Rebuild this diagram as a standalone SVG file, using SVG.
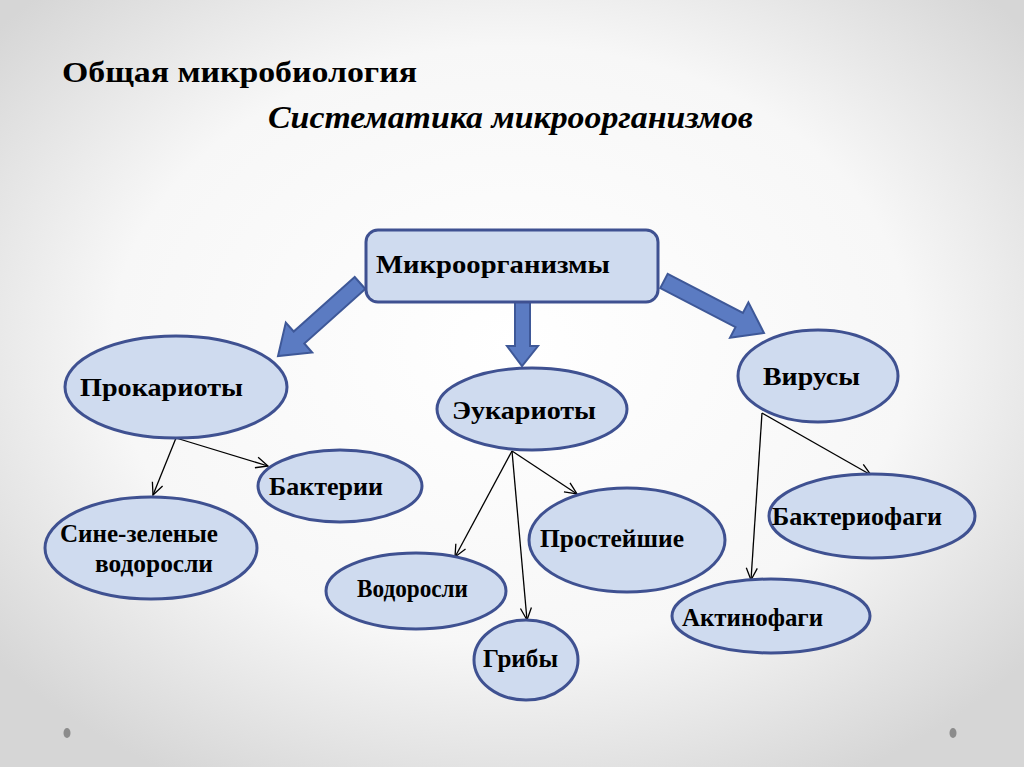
<svg xmlns="http://www.w3.org/2000/svg" width="1024" height="767" viewBox="0 0 1024 767">
<defs>
<radialGradient id="bg" cx="50%" cy="45%" r="65%">
<stop offset="0" stop-color="#ffffff"/>
<stop offset="0.6" stop-color="#f7f7f7"/>
<stop offset="1" stop-color="#d6d6d6"/>
</radialGradient>
<marker id="v" viewBox="0 0 14 14" refX="13" refY="7" markerWidth="14" markerHeight="14" markerUnits="userSpaceOnUse" orient="auto">
<path d="M1,1.5 L13,7 L1,12.5" fill="none" stroke="#000" stroke-width="1.3"/>
</marker>
<style>
.n{fill:#cfdbef;stroke:#3f5191;stroke-width:3}
.t{font-family:"Liberation Serif","Times New Roman",serif;font-weight:bold;font-size:25px;fill:#000}
.ln{stroke:#000;stroke-width:1.3;fill:none;marker-end:url(#v)}
.ba{fill:#5b7bc2;stroke:#3e5898;stroke-width:2;stroke-linejoin:miter}
</style>
</defs>
<rect x="0" y="0" width="1024" height="767" fill="url(#bg)"/>
<ellipse cx="67" cy="733" rx="3.5" ry="5" fill="#8c8c8c"/>
<ellipse cx="953" cy="733" rx="3.5" ry="5" fill="#8c8c8c"/>
<text x="62" y="82" font-family="Liberation Serif, serif" font-weight="bold" font-size="30" textLength="355" lengthAdjust="spacingAndGlyphs">Общая микробиология</text>
<text x="268" y="128" font-family="Liberation Serif, serif" font-style="italic" font-weight="bold" font-size="31" textLength="485" lengthAdjust="spacingAndGlyphs">Систематика микроорганизмов</text>
<g id="connectors">
<polygon class="ba" points="354.7,277 293.7,331.5 285.8,322.5 278,356 312.2,352.5 304.3,343.5 365.3,289"/>
<polygon class="ba" points="515,300 515,346 507,346 522,366 538,346 530,346 530,300"/>
<polygon class="ba" points="667.7,273.9 742.9,313 748.4,302.4 764,333 730,337.8 735.5,327.2 660.3,288.1"/>
<line class="ln" x1="176" y1="438" x2="153" y2="495"/>
<line class="ln" x1="176" y1="438" x2="268" y2="466"/>
<line class="ln" x1="512" y1="451" x2="455" y2="557"/>
<line class="ln" x1="512" y1="451" x2="527" y2="620"/>
<line class="ln" x1="512" y1="451" x2="577" y2="494"/>
<line class="ln" x1="762" y1="413" x2="871" y2="475"/>
<line class="ln" x1="762" y1="413" x2="751" y2="580"/>
</g>
<g id="root">
<rect class="n" x="366" y="230" width="292" height="72" rx="12"/>
<text class="t" x="376" y="273" font-size="27" textLength="234" lengthAdjust="spacingAndGlyphs">Микроорганизмы</text>
</g>
<g id="prokaryotes">
<ellipse class="n" cx="176" cy="387" rx="111" ry="51"/>
<text class="t" x="80" y="396" textLength="163" lengthAdjust="spacingAndGlyphs">Прокариоты</text>
</g>
<g id="bacteria">
<ellipse class="n" cx="340" cy="486" rx="82" ry="36"/>
<text class="t" x="269" y="495" textLength="114" lengthAdjust="spacingAndGlyphs">Бактерии</text>
</g>
<g id="cyanobacteria">
<ellipse class="n" cx="151" cy="548" rx="106" ry="51"/>
<text class="t" x="60" y="542" textLength="158" lengthAdjust="spacingAndGlyphs">Сине-зеленые</text>
<text class="t" x="95" y="572" textLength="118" lengthAdjust="spacingAndGlyphs">водоросли</text>
</g>
<g id="eukaryotes">
<ellipse class="n" cx="532" cy="409" rx="95" ry="41"/>
<text class="t" x="452" y="419" textLength="144" lengthAdjust="spacingAndGlyphs">Эукариоты</text>
</g>
<g id="protozoa">
<ellipse class="n" cx="627" cy="540" rx="98" ry="52"/>
<text class="t" x="540" y="547" textLength="144" lengthAdjust="spacingAndGlyphs">Простейшие</text>
</g>
<g id="algae">
<ellipse class="n" cx="416" cy="591" rx="90" ry="38"/>
<text class="t" x="357" y="597" textLength="111" lengthAdjust="spacingAndGlyphs">Водоросли</text>
</g>
<g id="fungi">
<ellipse class="n" cx="526" cy="660" rx="52" ry="40"/>
<text class="t" x="483" y="667" textLength="75" lengthAdjust="spacingAndGlyphs">Грибы</text>
</g>
<g id="viruses">
<ellipse class="n" cx="818" cy="376" rx="80" ry="46"/>
<text class="t" x="763" y="385" textLength="97" lengthAdjust="spacingAndGlyphs">Вирусы</text>
</g>
<g id="bacteriophages">
<ellipse class="n" cx="872" cy="516" rx="103" ry="42"/>
<text class="t" x="772" y="525" textLength="170" lengthAdjust="spacingAndGlyphs">Бактериофаги</text>
</g>
<g id="actinophages">
<ellipse class="n" cx="771" cy="616" rx="99" ry="37"/>
<text class="t" x="682" y="626" textLength="141" lengthAdjust="spacingAndGlyphs">Актинофаги</text>
</g>
</svg>
